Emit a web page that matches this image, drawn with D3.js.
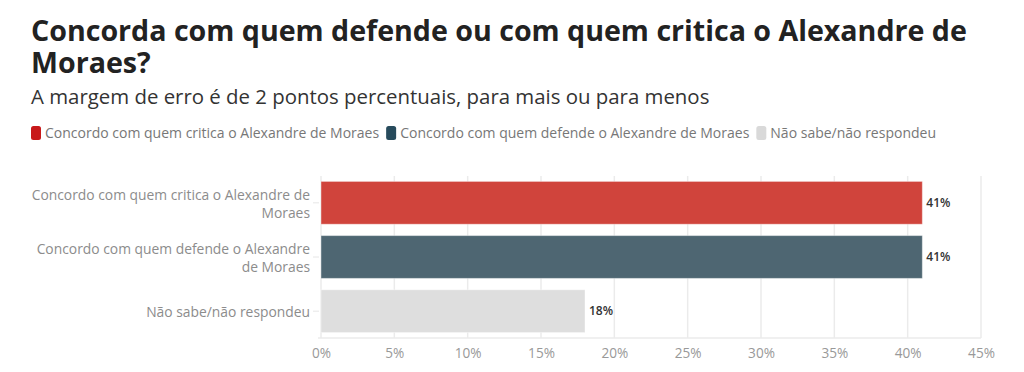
<!DOCTYPE html>
<html>
<head>
<meta charset="utf-8">
<script src="https://cdn.jsdelivr.net/npm/d3@7"></script>
<style>
  body { margin: 0; background: #fff; font-family: "Open Sans", sans-serif; }
  svg { display: block; }
</style>
</head>
<body>
<svg id="chart" width="1024" height="372"></svg>
<script>
// chart data
var categories = [
  "Concordo com quem critica o Alexandre de Moraes",
  "Concordo com quem defende o Alexandre de Moraes",
  "Não sabe/não respondeu"
];
var values = [41, 41, 18];
var legendColors = ["#c8191a", "#274b5c", "#d9d9d9"];
var barColors = ["#d0443c", "#4e6672", "#dedede"];
var xTicks = [0, 5, 10, 15, 20, 25, 30, 35, 40, 45];

var titleLines = ["Concorda com quem defende ou com quem critica o Alexandre de", "Moraes?"];
var subtitle = "A margem de erro é de 2 pontos percentuais, para mais ou para menos";

var svg = d3.select("#chart");

// title + subtitle
svg.selectAll(".title")
  .data(titleLines)
  .enter().append("text")
  .attr("class", "title")
  .attr("x", 31)
  .attr("y", function(d, i) { return 41 + i * 31.5; })
  .attr("font-size", 28.6)
  .attr("font-weight", 700)
  .attr("fill", "#222")
  .text(function(d) { return d; });

svg.append("text")
  .attr("x", 31)
  .attr("y", 104)
  .attr("font-size", 20.4)
  .attr("fill", "#333")
  .text(subtitle);

// legend
var legend = svg.append("g").attr("transform", "translate(31,133)");
var lx = 0;
categories.forEach(function(c, i) {
  var g = legend.append("g").attr("transform", "translate(" + lx + ",0)");
  g.append("rect")
    .attr("x", 0).attr("y", -7)
    .attr("width", 10).attr("height", 14)
    .attr("rx", 2.5)
    .attr("fill", legendColors[i]);
  var t = g.append("text")
    .attr("x", 14).attr("dy", "0.35em")
    .attr("font-size", 14)
    .attr("fill", "#777")
    .text(c);
  lx += 14 + t.node().getComputedTextLength() + 7;
});

// plot area
var plotLeft = 321, plotRight = 981, plotTop = 176, plotBottom = 338;

var x = d3.scaleLinear().domain([0, 45]).range([plotLeft, plotRight]);
var y = d3.scaleBand().domain(categories).range([plotTop, plotBottom])
  .paddingInner(0.21).paddingOuter(0.1);

// gridlines
svg.append("g")
  .selectAll("line")
  .data(xTicks)
  .enter().append("line")
  .attr("x1", function(d) { return x(d); })
  .attr("x2", function(d) { return x(d); })
  .attr("y1", plotTop)
  .attr("y2", plotBottom)
  .attr("stroke", "#ebebeb")
  .attr("stroke-width", 1.5);

svg.append("line")
  .attr("x1", plotLeft - 3).attr("x2", plotRight)
  .attr("y1", plotBottom).attr("y2", plotBottom)
  .attr("stroke", "#ebebeb")
  .attr("stroke-width", 1.5);

// x axis
var xAxis = d3.axisBottom(x)
  .tickValues(xTicks)
  .tickSize(0)
  .tickPadding(10)
  .tickFormat(function(d) { return d + "%"; });

var gx = svg.append("g")
  .attr("transform", "translate(0," + plotBottom + ")")
  .call(xAxis);
gx.select(".domain").remove();
gx.selectAll("text")
  .attr("font-family", "Open Sans")
  .attr("font-size", 13.6)
  .attr("fill", "#999");

// y axis
var yAxis = d3.axisLeft(y).tickSize(6).tickPadding(3);
var gy = svg.append("g")
  .attr("transform", "translate(" + (plotLeft - 2) + ",0)")
  .call(yAxis);
gy.select(".domain").remove();
gy.selectAll(".tick line").attr("stroke", "#e6e6e6");
gy.selectAll("text")
  .attr("font-family", "Open Sans")
  .attr("font-size", 13.85)
  .attr("fill", "#8c8c8c")
  .call(wrap, 285);

function wrap(texts, width) {
  texts.each(function() {
    var text = d3.select(this);
    var words = text.text().split(/\s+/);
    var lines = [], line = [];
    text.text(null);
    var tspan = text.append("tspan");
    words.forEach(function(w) {
      line.push(w);
      tspan.text(line.join(" "));
      if (tspan.node().getComputedTextLength() > width && line.length > 1) {
        line.pop();
        lines.push(line.join(" "));
        line = [w];
      }
    });
    lines.push(line.join(" "));
    tspan.remove();
    var lh = 18;
    var x0 = text.attr("x");
    lines.forEach(function(l, i) {
      text.append("tspan")
        .attr("x", x0)
        .attr("y", 0)
        .attr("dy", (i * lh - (lines.length - 1) * lh / 2) + "px")
        .text(l);
    });
    text.attr("dy", null).attr("dominant-baseline", "central");
  });
}

// bars
svg.append("g")
  .selectAll("rect")
  .data(values)
  .enter().append("rect")
  .attr("x", x(0))
  .attr("y", function(d, i) { return y(categories[i]); })
  .attr("width", function(d) { return x(d) - x(0); })
  .attr("height", y.bandwidth())
  .attr("fill", function(d, i) { return barColors[i]; })
  .attr("stroke", "#fff")
  .attr("stroke-opacity", 0.4)
  .attr("stroke-width", 1);

// value labels
svg.append("g")
  .selectAll("text")
  .data(values)
  .enter().append("text")
  .attr("x", function(d) { return x(d) + 4; })
  .attr("y", function(d, i) { return y(categories[i]) + y.bandwidth() / 2; })
  .attr("dy", "0.35em")
  .attr("font-size", 12)
  .attr("font-weight", 600)
  .attr("fill", "#333")
  .text(function(d) { return d + "%"; });
</script>
</body>
</html>
